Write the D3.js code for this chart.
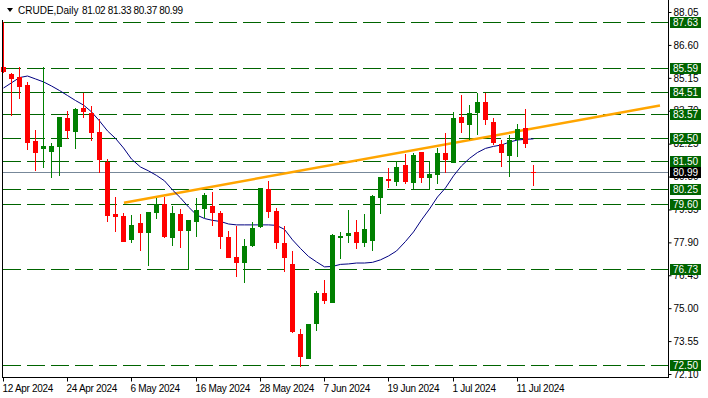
<!DOCTYPE html>
<html>
<head>
<meta charset="utf-8">
<script src="https://cdn.jsdelivr.net/npm/d3@7"></script>
<style>
body { margin: 0; background: #fff; }
svg { display: block; }
text { font-family: "Liberation Sans", Arial, sans-serif; }
</style>
</head>
<body>
<svg width="708" height="398"></svg>
<script>
// daily bars, 12 Apr 2024 -> 15 Jul 2024
const opens = [85.63, 85.31, 85.20, 84.83, 82.37, 82.00, 81.90, 82.12, 83.37, 82.78,
    83.83, 83.59, 82.78, 81.46, 79.15, 79.06, 78.01, 78.74, 78.30, 79.21,
    79.58, 78.08, 79.15, 78.42, 78.81, 79.36, 79.50, 79.18, 78.13, 77.24,
    76.98, 77.74, 78.59, 80.24, 79.28, 77.86, 76.95, 73.87, 72.76, 74.31,
    75.69, 75.25, 78.11, 78.20, 78.35, 77.89, 77.98, 79.87, 80.69, 80.57,
    81.31, 80.50, 81.87, 80.72, 80.87, 81.83, 81.39, 83.41, 83.07, 83.59,
    84.10, 83.19, 82.22, 81.72, 82.41, 82.93, 81.02];
const highs = [87.61, 85.36, 85.64, 84.98, 82.85, 85.64, 82.29, 83.41, 83.69, 83.83,
    84.50, 83.91, 83.32, 81.56, 79.91, 79.18, 79.11, 79.15, 79.23, 79.84,
    79.91, 79.50, 79.36, 78.89, 79.84, 80.09, 80.11, 79.28, 78.40, 78.64,
    78.05, 78.79, 80.28, 80.61, 79.40, 78.62, 77.52, 74.07, 74.31, 75.77,
    76.24, 78.27, 78.35, 79.33, 78.89, 79.15, 79.99, 80.80, 81.19, 81.50,
    81.79, 81.83, 81.90, 81.50, 82.05, 82.72, 83.63, 84.39, 83.95, 84.47,
    84.50, 83.37, 82.41, 82.63, 83.12, 83.76, 81.33];
const lows = [85.36, 83.47, 84.20, 81.97, 81.06, 81.16, 80.72, 80.84, 82.44, 82.00,
    83.37, 82.38, 80.94, 78.81, 78.37, 77.92, 77.89, 77.53, 76.87, 78.92,
    78.11, 77.74, 77.67, 76.68, 78.15, 78.96, 78.64, 77.61, 77.23, 76.39,
    76.13, 77.68, 78.52, 78.96, 77.61, 76.61, 73.90, 72.43, 72.76, 74.01,
    75.19, 75.23, 77.17, 77.86, 77.61, 77.71, 77.53, 79.14, 80.28, 80.38,
    80.47, 80.24, 80.53, 80.21, 80.47, 80.97, 81.39, 82.71, 82.41, 82.63,
    83.07, 82.19, 81.20, 80.80, 81.65, 82.07, 80.37];
const closes = [85.41, 85.09, 84.76, 82.29, 81.85, 82.15, 82.15, 83.41, 82.82, 83.78,
    83.66, 82.73, 81.53, 79.08, 79.03, 77.93, 78.67, 78.33, 79.23, 79.58,
    78.15, 79.18, 78.42, 78.89, 79.33, 79.99, 79.18, 78.15, 77.23, 76.98,
    77.74, 78.52, 80.28, 79.25, 77.86, 77.23, 73.95, 72.87, 74.31, 75.69,
    75.33, 78.23, 78.18, 78.33, 77.89, 78.49, 79.94, 80.77, 80.62, 81.24,
    80.57, 81.75, 80.75, 80.91, 81.83, 81.53, 83.37, 83.15, 83.59, 84.07,
    83.29, 82.27, 81.83, 82.41, 82.88, 82.22, 80.99];

// moving average line
const maValues = [84.70, 84.93, 85.16, 85.23, 85.10, 84.97, 84.79, 84.59, 84.37, 84.15,
    83.95, 83.65, 83.25, 82.81, 82.48, 82.06, 81.57, 81.22, 81.05, 80.85,
    80.61, 80.21, 79.86, 79.46, 79.11, 78.95, 78.87, 78.82, 78.71, 78.67,
    78.67, 78.67, 78.67, 78.67, 78.65, 78.47, 78.01, 77.63, 77.28, 77.04,
    76.82, 76.84, 76.93, 76.95, 76.99, 76.99, 77.02, 77.13, 77.30, 77.52,
    77.94, 78.36, 78.89, 79.37, 79.90, 80.30, 80.83, 81.27, 81.60, 81.86,
    82.04, 82.13, 82.19, 82.32, 82.41, 82.44, 82.46];

const levels = [87.63, 85.59, 84.51, 83.57, 82.50, 81.50, 80.25, 79.60, 76.73, 72.50];
const lastPrice = 80.99;
const trendPoints = [[15, 79.65], [81.75, 83.93]];

const priceTicks = [88.05, 86.60, 85.15, 83.70, 82.25, 80.80, 79.35, 77.90, 76.45, 75.00, 73.55, 72.10];
const dateTicks = [0, 8, 16, 24, 32, 40, 48, 56, 64];
const dateLabels = ["12 Apr 2024", "24 Apr 2024", "6 May 2024", "16 May 2024", "28 May 2024",
    "7 Jun 2024", "19 Jun 2024", "1 Jul 2024", "11 Jul 2024"];

const plotRight = 668;
const plotBottom = 377;

const xScale = d3.scaleLinear()
    .domain([0, 82.75])
    .range([3.5, plotRight]);

const yScale = d3.scaleLinear()
    .domain([72.10, 88.05])
    .range([374, 12]);

const svg = d3.select("svg");
svg.append("rect").attr("width", 708).attr("height", 398).attr("fill", "#fff");

const px = i => Math.floor(xScale(i));

// horizontal levels
svg.append("g")
    .selectAll("line")
    .data(levels)
    .enter().append("line")
    .attr("x1", 3)
    .attr("x2", plotRight)
    .attr("y1", d => Math.round(yScale(d)) + 0.5)
    .attr("y2", d => Math.round(yScale(d)) + 0.5)
    .attr("stroke", "#006400")
    .attr("stroke-width", 1)
    .attr("stroke-dasharray", "18,6");

// current price line
svg.append("line")
    .attr("x1", 3)
    .attr("x2", plotRight)
    .attr("y1", Math.round(yScale(lastPrice)) + 0.5)
    .attr("y2", Math.round(yScale(lastPrice)) + 0.5)
    .attr("stroke", "#778899");

// trend line
svg.append("line")
    .attr("x1", xScale(trendPoints[0][0]))
    .attr("y1", yScale(trendPoints[0][1]))
    .attr("x2", xScale(trendPoints[1][0]))
    .attr("y2", yScale(trendPoints[1][1]))
    .attr("stroke", "#FFA500")
    .attr("stroke-width", 2.5);

// moving average
svg.append("path")
    .datum(maValues)
    .attr("d", d3.line().x((d, i) => px(i) + 0.5).y(d => yScale(d)))
    .attr("fill", "none")
    .attr("stroke", "#000080")
    .attr("stroke-width", 1);

// candles
const candles = svg.append("g")
    .attr("shape-rendering", "crispEdges")
    .selectAll("g")
    .data(opens.map((o, i) => i))
    .enter().append("g");

candles.append("line")
    .attr("x1", i => px(i) + 0.5)
    .attr("x2", i => px(i) + 0.5)
    .attr("y1", i => yScale(highs[i]))
    .attr("y2", i => yScale(lows[i]))
    .attr("stroke", i => closes[i] >= opens[i] ? "#008000" : "#FF0000");

candles.append("rect")
    .attr("x", i => px(i) - 2)
    .attr("width", 5)
    .attr("y", i => yScale(Math.max(opens[i], closes[i])))
    .attr("height", i => Math.max(1.5, Math.abs(yScale(opens[i]) - yScale(closes[i]))))
    .attr("fill", i => closes[i] >= opens[i] ? "#008000" : "#FF0000");

// frame
svg.append("rect").attr("x", 0).attr("y", plotBottom + 1).attr("width", 708).attr("height", 20).attr("fill", "#fff");
svg.append("rect").attr("x", plotRight + 1).attr("y", 0).attr("width", 40).attr("height", 398).attr("fill", "#fff");
svg.append("line").attr("x1", 2.5).attr("x2", 2.5).attr("y1", 20).attr("y2", plotBottom).attr("stroke", "#000");
svg.append("line").attr("x1", 2).attr("x2", plotRight + 1).attr("y1", plotBottom + 0.5).attr("y2", plotBottom + 0.5).attr("stroke", "#000");
svg.append("line").attr("x1", plotRight + 0.5).attr("x2", plotRight + 0.5).attr("y1", 0).attr("y2", plotBottom + 1).attr("stroke", "#000");

// price axis
const yAxis = svg.append("g")
    .attr("transform", `translate(${plotRight + 0.5},0)`)
    .call(d3.axisRight(yScale).tickValues(priceTicks).tickSize(3).tickPadding(2).tickFormat(d3.format(".2f")));
yAxis.select(".domain").remove();
yAxis.selectAll("text").attr("font-size", 10).attr("fill", "#000").attr("font-family", "Liberation Sans, Arial, sans-serif");
yAxis.selectAll("line").attr("stroke", "#000");

// date axis
const xAxis = svg.append("g")
    .attr("transform", `translate(0,${plotBottom + 0.5})`)
    .call(d3.axisBottom(xScale).tickValues(dateTicks).tickSize(4).tickPadding(3).tickFormat((d, i) => dateLabels[i]));
xAxis.select(".domain").remove();
xAxis.selectAll(".tick").attr("transform", d => `translate(${px(d) + 0.5},0)`);
xAxis.selectAll("text")
    .attr("text-anchor", "start")
    .attr("x", -1)
    .attr("font-size", 10)
    .attr("letter-spacing", -0.3)
    .attr("fill", "#000")
    .attr("font-family", "Liberation Sans, Arial, sans-serif");
xAxis.selectAll("line").attr("stroke", "#000");

// level labels (they sit over the axis ticks, as on the terminal)
const tags = svg.append("g")
    .selectAll("g")
    .data(levels.map(v => ({ v: v, bg: "#006400" })).concat([{ v: lastPrice, bg: "#000" }]))
    .enter().append("g")
    .attr("transform", d => `translate(${plotRight + 2},${Math.round(yScale(d.v))})`);

tags.append("rect")
    .attr("x", 0)
    .attr("y", -5)
    .attr("width", 31)
    .attr("height", 11)
    .attr("fill", d => d.bg);

tags.append("text")
    .attr("x", 3)
    .attr("y", 4)
    .attr("font-size", 10)
    .attr("fill", "#fff")
    .text(d => d.v.toFixed(2));

// header
svg.append("path").attr("d", "M7,8 L13,8 L10,12 Z").attr("fill", "#000");
svg.append("text")
    .attr("x", 18)
    .attr("y", 14)
    .attr("font-size", 10)
    .attr("fill", "#000")
    .text("CRUDE,Daily");
svg.append("text")
    .attr("x", 82)
    .attr("y", 14)
    .attr("font-size", 10)
    .attr("fill", "#000")
    .attr("textLength", 101)
    .attr("lengthAdjust", "spacing")
    .text("81.02 81.33 80.37 80.99");
</script>
</body>
</html>
